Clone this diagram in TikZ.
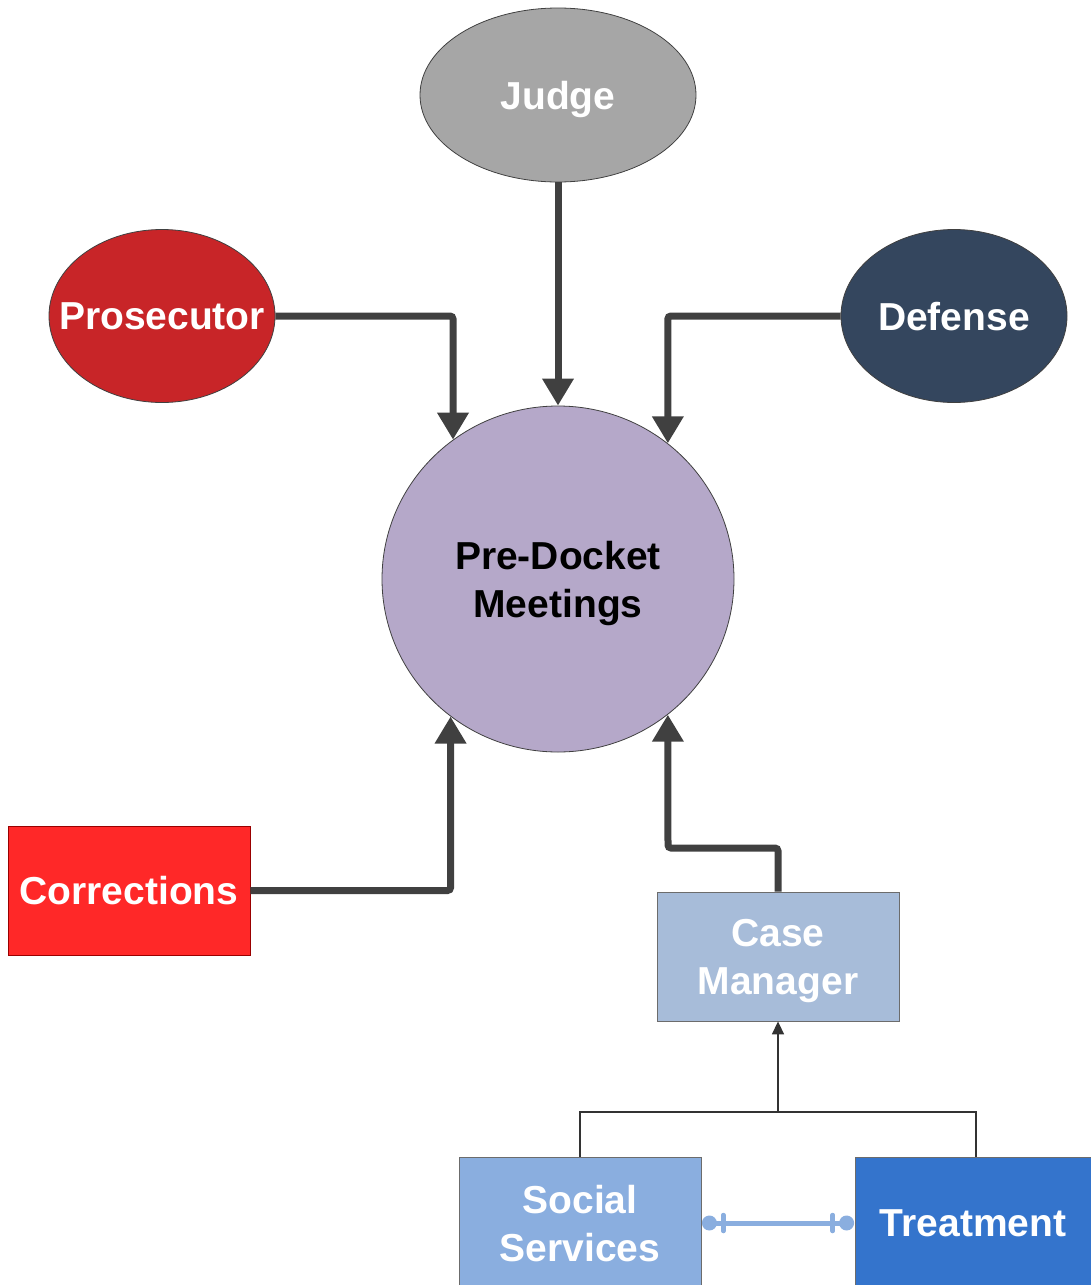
\documentclass[tikz,border=0pt]{standalone}
\usepackage{fontspec}
\setmainfont{Liberation Sans}
\usetikzlibrary{shapes.geometric,arrows.meta,calc}

\definecolor{judgegray}{HTML}{A6A6A6}
\definecolor{prosred}{HTML}{C82528}
\definecolor{defnavy}{HTML}{34465E}
\definecolor{meetlilac}{HTML}{B5A8C9}
\definecolor{corrred}{HTML}{FF2828}
\definecolor{caseblue}{HTML}{A7BCD9}
\definecolor{socblue}{HTML}{8AAEDF}
\definecolor{treatblue}{HTML}{3474CC}
\definecolor{linkgray}{HTML}{404040}

\tikzset{
  x=1pt, y=-1pt,
  label text/.style={text=white, font=\fontsize{39}{48}\selectfont\bfseries,
    align=center, text depth=0pt},
  actor/.style={ellipse, draw=linkgray, line width=0.8pt, inner ysep=0pt, inner xsep=-25pt,
    minimum width=226pt, minimum height=173pt, label text},
  unitbox/.style={rectangle, draw=gray!85!black, line width=0.8pt, inner sep=0pt,
    minimum width=242pt, minimum height=129pt, label text},
  feed/.style={draw=linkgray, line width=7pt, rounded corners=3pt,
    -{Triangle[width=30pt,length=27pt]}},
  tree/.style={draw=black!80, line width=1.6pt},
  pairlink/.style={draw=socblue, line width=5pt},
}

\begin{document}
\begin{tikzpicture}
\useasboundingbox (0,0) rectangle (1091,1285);

% actors around the meeting
\node[actor, fill=judgegray, minimum width=276pt, minimum height=174pt] (judge) at (558,95) {Judge};
\node[actor, fill=prosred] (pros) at (162,316) {Prosecutor};
\node[actor, fill=defnavy] (def) at (954,316) {Defense};

\node[ellipse, draw=linkgray, line width=0.8pt, fill=meetlilac, inner sep=0pt,
  minimum width=352pt, minimum height=346pt, label text, text=black] (pdm) at (558,579)
  {Pre-Docket\\Meetings};

% agencies
\node[unitbox, fill=corrred, draw=red!60!black] (corr) at (129,890.5) {Corrections};
\node[unitbox, fill=caseblue] (cm) at (778,956.5) {Case\\Manager};
\node[unitbox, fill=socblue, minimum height=132pt] (ss) at (580,1223) {Social\\Services};
\node[unitbox, fill=treatblue, minimum width=236pt, minimum height=132pt] (tr) at (973,1223) {Treatment};

% feeds into the meeting
\draw[feed] (judge.south) -- (pdm.north);
\draw[feed] (pros.east) -| (pdm.127);
\draw[feed] (def.west) -| (pdm.51);
\draw[feed] (corr.east) -| (pdm.232);
\coordinate (cmbend) at (668,848);
\draw[feed] (cm.north) |- (cmbend) -- (pdm.309);

% services reporting to the case manager
\coordinate (join) at (778,1112);
\draw[tree] (ss.north) |- (join) -| (976,1157);
\draw[tree, -{Triangle[width=12pt,length=13pt]}] (join) -- (cm.south);

% link between social services and treatment
\coordinate (lA) at ($(ss.east)+(8,0)$);
\coordinate (lB) at ($(tr.west)+(-8,0)$);
\draw[pairlink] (lA) -- (lB);
\fill[socblue] (lA) circle (7.5pt);
\fill[socblue] (lB) circle (7.5pt);
\draw[socblue, line width=4.5pt, line cap=round] ($(lA)+(14,-8)$) -- ($(lA)+(14,8)$);
\draw[socblue, line width=4.5pt, line cap=round] ($(lB)+(-14,-8)$) -- ($(lB)+(-14,8)$);
\end{tikzpicture}
\end{document}
